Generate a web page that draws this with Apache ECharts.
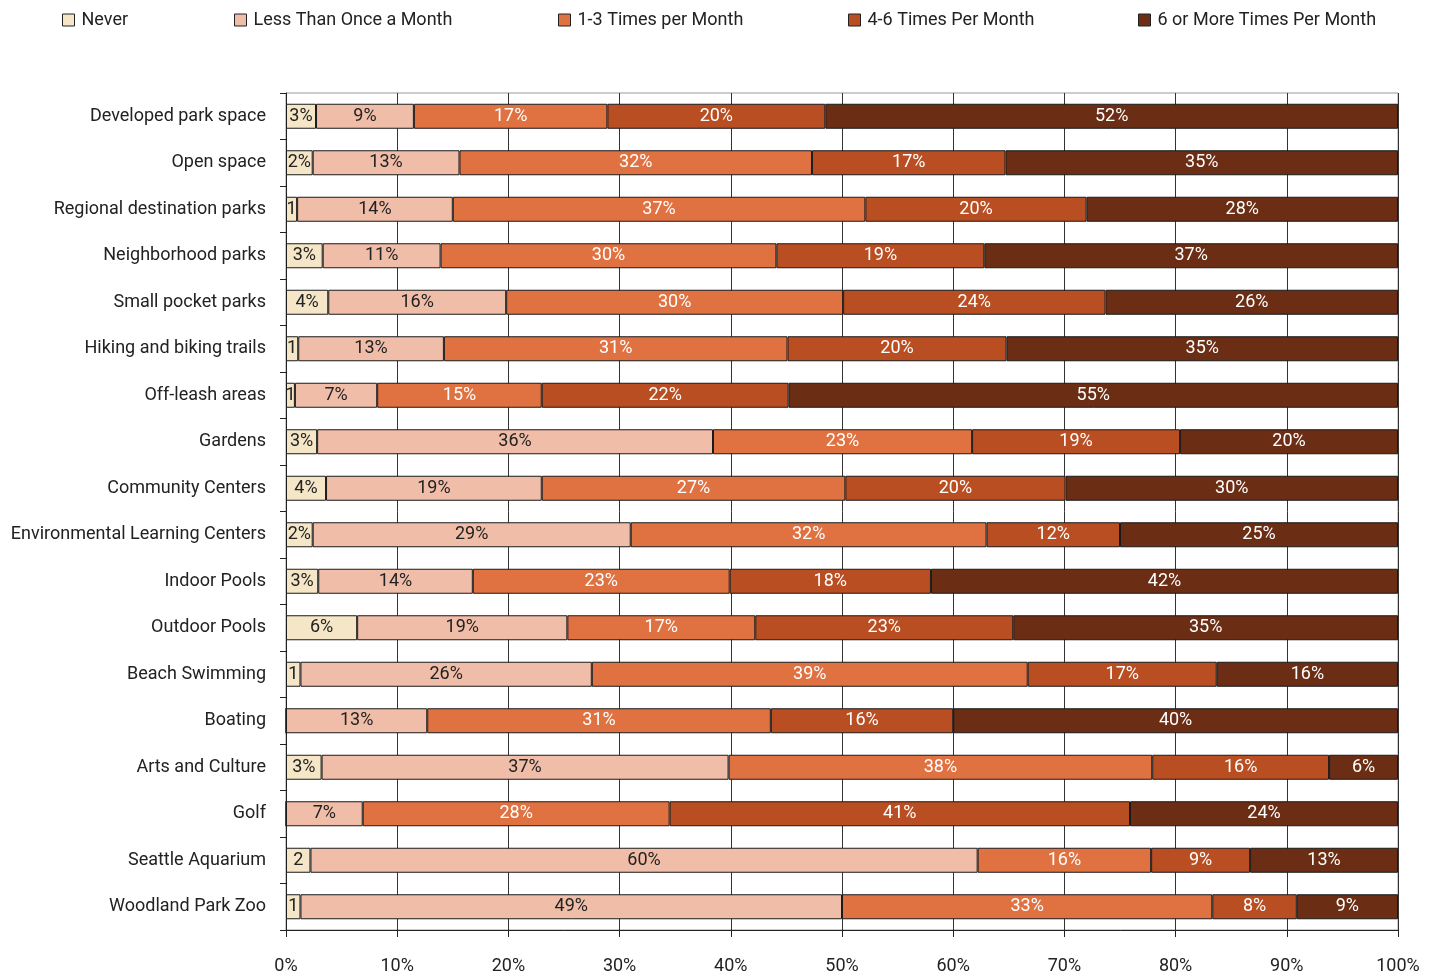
<!DOCTYPE html>
<html>
<head>
<meta charset="utf-8">
<script src="https://cdn.jsdelivr.net/npm/echarts@6/dist/echarts.min.js"></script>
<style>
html,body{margin:0;padding:0;background:#fff;}
#chart{width:1438px;height:978px;}
</style>
</head>
<body>
<div id="chart"></div>
<script>
const categories = [
  "Developed park space", "Open space", "Regional destination parks", "Neighborhood parks",
  "Small pocket parks", "Hiking and biking trails", "Off-leash areas", "Gardens",
  "Community Centers", "Environmental Learning Centers", "Indoor Pools", "Outdoor Pools",
  "Beach Swimming", "Boating", "Arts and Culture", "Golf", "Seattle Aquarium", "Woodland Park Zoo"
];
const seriesNames = ["Never", "Less Than Once a Month", "1-3 Times per Month", "4-6 Times Per Month", "6 or More Times Per Month"];
const never      = [2.7, 2.4, 1.0, 3.3, 3.8, 1.1, 0.8, 2.8, 3.6, 2.4, 2.9, 6.4, 1.3, 0,    3.2, 0,    2.2, 1.3];
const lessThanMonthly = [8.8, 13.2, 14.0, 10.6, 16.0, 13.1, 7.4, 35.6, 19.4, 28.6, 13.9, 18.9, 26.2, 12.7, 36.6, 6.9, 60.0, 48.7];
const oneToThree = [17.4, 31.7, 37.1, 30.2, 30.3, 30.9, 14.8, 23.3, 27.3, 32.0, 23.1, 16.9, 39.2, 30.9, 38.1, 27.6, 15.6, 33.3];
const fourToSix  = [19.6, 17.4, 19.9, 18.7, 23.6, 19.7, 22.2, 18.7, 19.8, 12.0, 18.1, 23.2, 17.0, 16.4, 15.9, 41.4, 8.9, 7.6];
const sixPlus    = [51.5, 35.3, 28.0, 37.2, 26.3, 35.2, 54.8, 19.6, 29.9, 25.0, 42.0, 34.6, 16.3, 40.0, 6.2, 24.1, 13.3, 9.1];
const xTicks = [0, 10, 20, 30, 40, 50, 60, 70, 80, 90, 100];

const colors = ["#F4E6C6", "#F0BDA9", "#E07242", "#B94E22", "#6B2D14"];
const labelColors = ["#222", "#222", "#fff", "#fff", "#fff"];
const legendLeft = [62, 234, 558, 848, 1138];
const FONT = "Roboto, 'Liberation Sans', sans-serif";

function fmt(p) {
  const v = p.value;
  if (!v) return '';
  const r = Math.round(v);
  return v < 2.3 ? String(r) : r + '%';
}

const allData = [never, lessThanMonthly, oneToThree, fourToSix, sixPlus];
const series = seriesNames.map((name, i) => ({
  name: name,
  type: 'bar',
  stack: 'total',
  barWidth: 25,
  data: allData[i],
  itemStyle: { color: colors[i], borderColor: '#1a1a1a', borderWidth: 1 },
  label: {
    show: true,
    position: 'inside',
    formatter: fmt,
    color: labelColors[i],
    fontFamily: FONT,
    fontSize: 18,
    textBorderWidth: 0
  },
  emphasis: { disabled: true }
}));

const legends = seriesNames.map((n, i) => ({
  left: legendLeft[i],
  top: 11,
  padding: 0,
  itemWidth: 12,
  itemHeight: 12,
  icon: 'rect',
  selectedMode: false,
  data: [{ name: n, itemStyle: { color: colors[i], borderColor: '#222', borderWidth: 1 } }],
  textStyle: { fontFamily: FONT, fontSize: 18, color: '#222', padding: [0, 0, 0, 2] }
}));

const chart = echarts.init(document.getElementById('chart'), null, { renderer: 'canvas' });
chart.setOption({
  animation: false,
  backgroundColor: '#fff',
  textStyle: { fontFamily: FONT },
  legend: legends,
  grid: {
    left: 286, right: 40, top: 93, bottom: 48,
    show: true, borderColor: '#999', borderWidth: 1,
    containLabel: false,
    outerBoundsMode: 'none'
  },
  xAxis: {
    type: 'value',
    min: 0, max: 100, interval: 10,
    axisLine: { show: true, lineStyle: { color: '#222', width: 1 } },
    axisTick: { show: true, length: 7, lineStyle: { color: '#222' } },
    splitLine: { show: true, lineStyle: { color: '#333', width: 1 } },
    axisLabel: {
      formatter: v => xTicks.includes(v) ? v + '%' : '',
      fontFamily: FONT, fontSize: 18, color: '#222', margin: 27
    }
  },
  yAxis: {
    type: 'category',
    inverse: true,
    data: categories,
    axisLine: { show: true, lineStyle: { color: '#222', width: 1 } },
    axisTick: { show: true, length: 6, lineStyle: { color: '#222' } },
    axisLabel: { fontFamily: FONT, fontSize: 18, color: '#222', margin: 20 }
  },
  series: series
});
</script>
</body>
</html>
